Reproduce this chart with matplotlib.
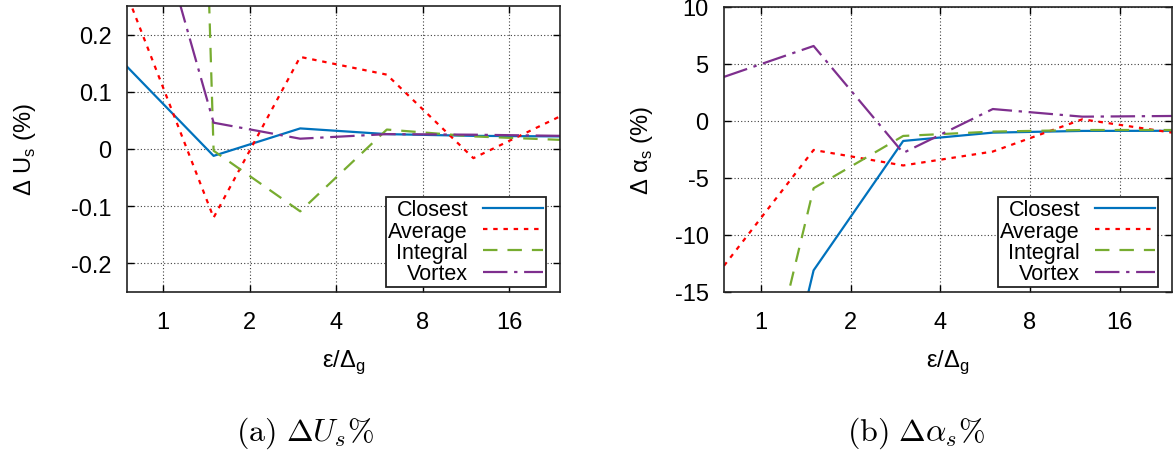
import matplotlib
matplotlib.use('Agg')
import matplotlib.pyplot as plt
from matplotlib.ticker import FixedLocator, FixedFormatter, NullLocator

plt.rcParams['font.family'] = ['Liberation Sans', 'DejaVu Sans']
plt.rcParams['axes.unicode_minus'] = False

# kernel width over grid spacing
eps = [0.75, 1.5, 3, 6, 12, 24]

# velocity error (%)
us_closest = [0.144, -0.012, 0.036, 0.026, 0.023, 0.022]
us_average = [0.27, -0.120, 0.161, 0.130, -0.016, 0.057]
us_integral = [5.0, -0.003, -0.109, 0.034, 0.022, 0.016]
us_vortex = [0.58, 0.046, 0.018, 0.026, 0.025, 0.023]

# angle error (%)
al_closest = [-46.0, -13.1, -1.75, -1.02, -0.87, -0.86]
al_average = [-12.7, -2.54, -3.9, -2.68, 0.15, -1.02]
al_integral = [-38.6, -5.9, -1.31, -0.93, -0.79, -0.79]
al_vortex = [3.87, 6.58, -2.8, 1.05, 0.38, 0.44]

names = ['Closest', 'Average', 'Integral', 'Vortex']
colors = ['#0072bd', '#ff0000', '#77ac30', '#7e2f8e']
dashes = [None, (2, 2.6), (6.5, 4.5), (11, 3, 1.5, 3)]

xticks = [1, 2, 4, 8, 16]


def dibuja(ax, series, yticks, ylim, ylabel, pad_ylabel):
    for serie, nombre, color, d in zip(series, names, colors, dashes):
        linea, = ax.plot(eps, serie, color=color, lw=1.6, label=nombre)
        if d is not None:
            linea.set_dashes(d)
    ax.set_xscale('log', base=2)
    ax.set_xlim(0.75, 24)
    ax.set_ylim(*ylim)
    ax.xaxis.set_major_locator(FixedLocator(xticks))
    ax.xaxis.set_major_formatter(FixedFormatter([str(t) for t in xticks]))
    ax.xaxis.set_minor_locator(NullLocator())
    ax.set_yticks(yticks)
    ax.set_yticklabels([f'{t:g}' for t in yticks])
    ax.tick_params(direction='in', length=5, width=1, labelsize=17,
                   top=True, right=True)
    ax.tick_params(axis='x', pad=14)
    ax.tick_params(axis='y', pad=11)
    ax.grid(True, color='#404040', linestyle=(0, (1, 2)), lw=0.8)
    for s in ax.spines.values():
        s.set_linewidth(1.2)
        s.set_color('#222222')
    ax.set_xlabel('ε/Δ$_\\mathregular{g}$', fontsize=17, labelpad=10)
    ax.set_ylabel(ylabel, fontsize=17, labelpad=pad_ylabel)
    anchor = (1 - 14 / (ax.bbox.width), 5 / ax.bbox.height)
    leg = ax.legend(loc='lower right', bbox_to_anchor=anchor, borderaxespad=0,
                    markerfirst=False, fontsize=15.5, frameon=True, fancybox=False,
                    framealpha=1, edgecolor='#222222', labelspacing=0.02,
                    handlelength=2.8, handletextpad=0.7, borderpad=0.12)
    leg.get_frame().set_linewidth(1.3)


fig = plt.figure(figsize=(11.73, 4.52), dpi=100)
ax1 = fig.add_axes([127 / 1173, 1 - 293 / 452, 433 / 1173, 286 / 452])
ax2 = fig.add_axes([724 / 1173, 1 - 293 / 452, 448 / 1173, 285 / 452])

dibuja(ax1, [us_closest, us_average, us_integral, us_vortex],
       [-0.2, -0.1, 0, 0.1, 0.2], (-0.25, 0.25), 'Δ U$_\\mathregular{s}$ (%)', 24)
dibuja(ax2, [al_closest, al_average, al_integral, al_vortex],
       [-15, -10, -5, 0, 5, 10], (-15, 10), 'Δ α$_\\mathregular{s}$ (%)', 14)

fig.text(305 / 1173, 1 - 433 / 452, r'$\mathrm{(a)}\ \Delta U_s\%$',
         math_fontfamily='cm', fontsize=23, ha='center', va='center')
fig.text(916 / 1173, 1 - 433 / 452, r'$\mathrm{(b)}\ \Delta \alpha_s\%$',
         math_fontfamily='cm', fontsize=23, ha='center', va='center')

fig.savefig('out.png', dpi=100)
